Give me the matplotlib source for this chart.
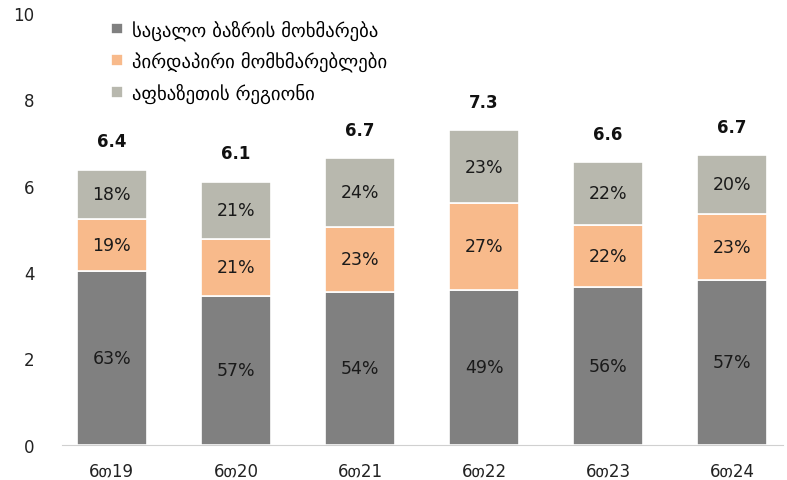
import matplotlib
matplotlib.use("Agg")
import matplotlib.pyplot as plt
import numpy as np

plt.rcParams['font.family'] = ['DejaVu Sans']

# data
periods = ["6თ19", "6თ20", "6თ21", "6თ22", "6თ23", "6თ24"]
series_names = ["საცალო ბაზრის მოხმარება", "პირდაპირი მომხმარებლები", "აფხაზეთის რეგიონი"]
retail = [4.03, 3.45, 3.54, 3.59, 3.66, 3.82]
direct = [1.20, 1.32, 1.51, 2.01, 1.43, 1.53]
abkhazia = [1.14, 1.32, 1.59, 1.69, 1.46, 1.36]
retail_pct = ["63%", "57%", "54%", "49%", "56%", "57%"]
direct_pct = ["19%", "21%", "23%", "27%", "22%", "23%"]
abkhazia_pct = ["18%", "21%", "24%", "23%", "22%", "20%"]
totals = ["6.4", "6.1", "6.7", "7.3", "6.6", "6.7"]

colors = ["#808080", "#F8BA8B", "#B8B8AE"]

fig = plt.figure(figsize=(7.87, 4.81), dpi=100)
ax = fig.add_axes([0.079, 0.073, 0.916, 0.898])

x = np.arange(len(periods))
w = 0.56
bottom = np.zeros(len(periods))
for vals, pcts, col, name in zip([retail, direct, abkhazia],
                                 [retail_pct, direct_pct, abkhazia_pct],
                                 colors, series_names):
    bars = ax.bar(x, vals, w, bottom=bottom, color=col, edgecolor="white",
                  linewidth=1.2, label=name)
    ax.bar_label(bars, labels=pcts, label_type='center', fontsize=12.5, color="#1a1a1a")
    bottom += np.array(vals)

for xi, top, t in zip(x, bottom, totals):
    ax.text(xi, top + 0.45, t, ha='center', va='bottom', fontsize=12,
            fontweight='bold', color="#111111")

ax.set_xlim(-0.4, 5.41)
ax.set_ylim(0, 10)
ax.set_yticks(np.arange(0, 11, 2))
ax.set_xticks(x, labels=periods)
ax.tick_params(axis='both', length=0, labelsize=12, colors="#222222")
ax.tick_params(axis='x', pad=12)
ax.tick_params(axis='y', pad=20)
for s in ["top", "right", "left"]:
    ax.spines[s].set_visible(False)
ax.spines["bottom"].set_color("#D0D0D0")

ax.legend(loc='upper left', bbox_to_anchor=(0.045, 1.025), frameon=False,
          fontsize=13.5, handlelength=0.6, handleheight=0.6, handletextpad=0.5,
          labelspacing=0.6)

plt.savefig("out.png", dpi=100)
